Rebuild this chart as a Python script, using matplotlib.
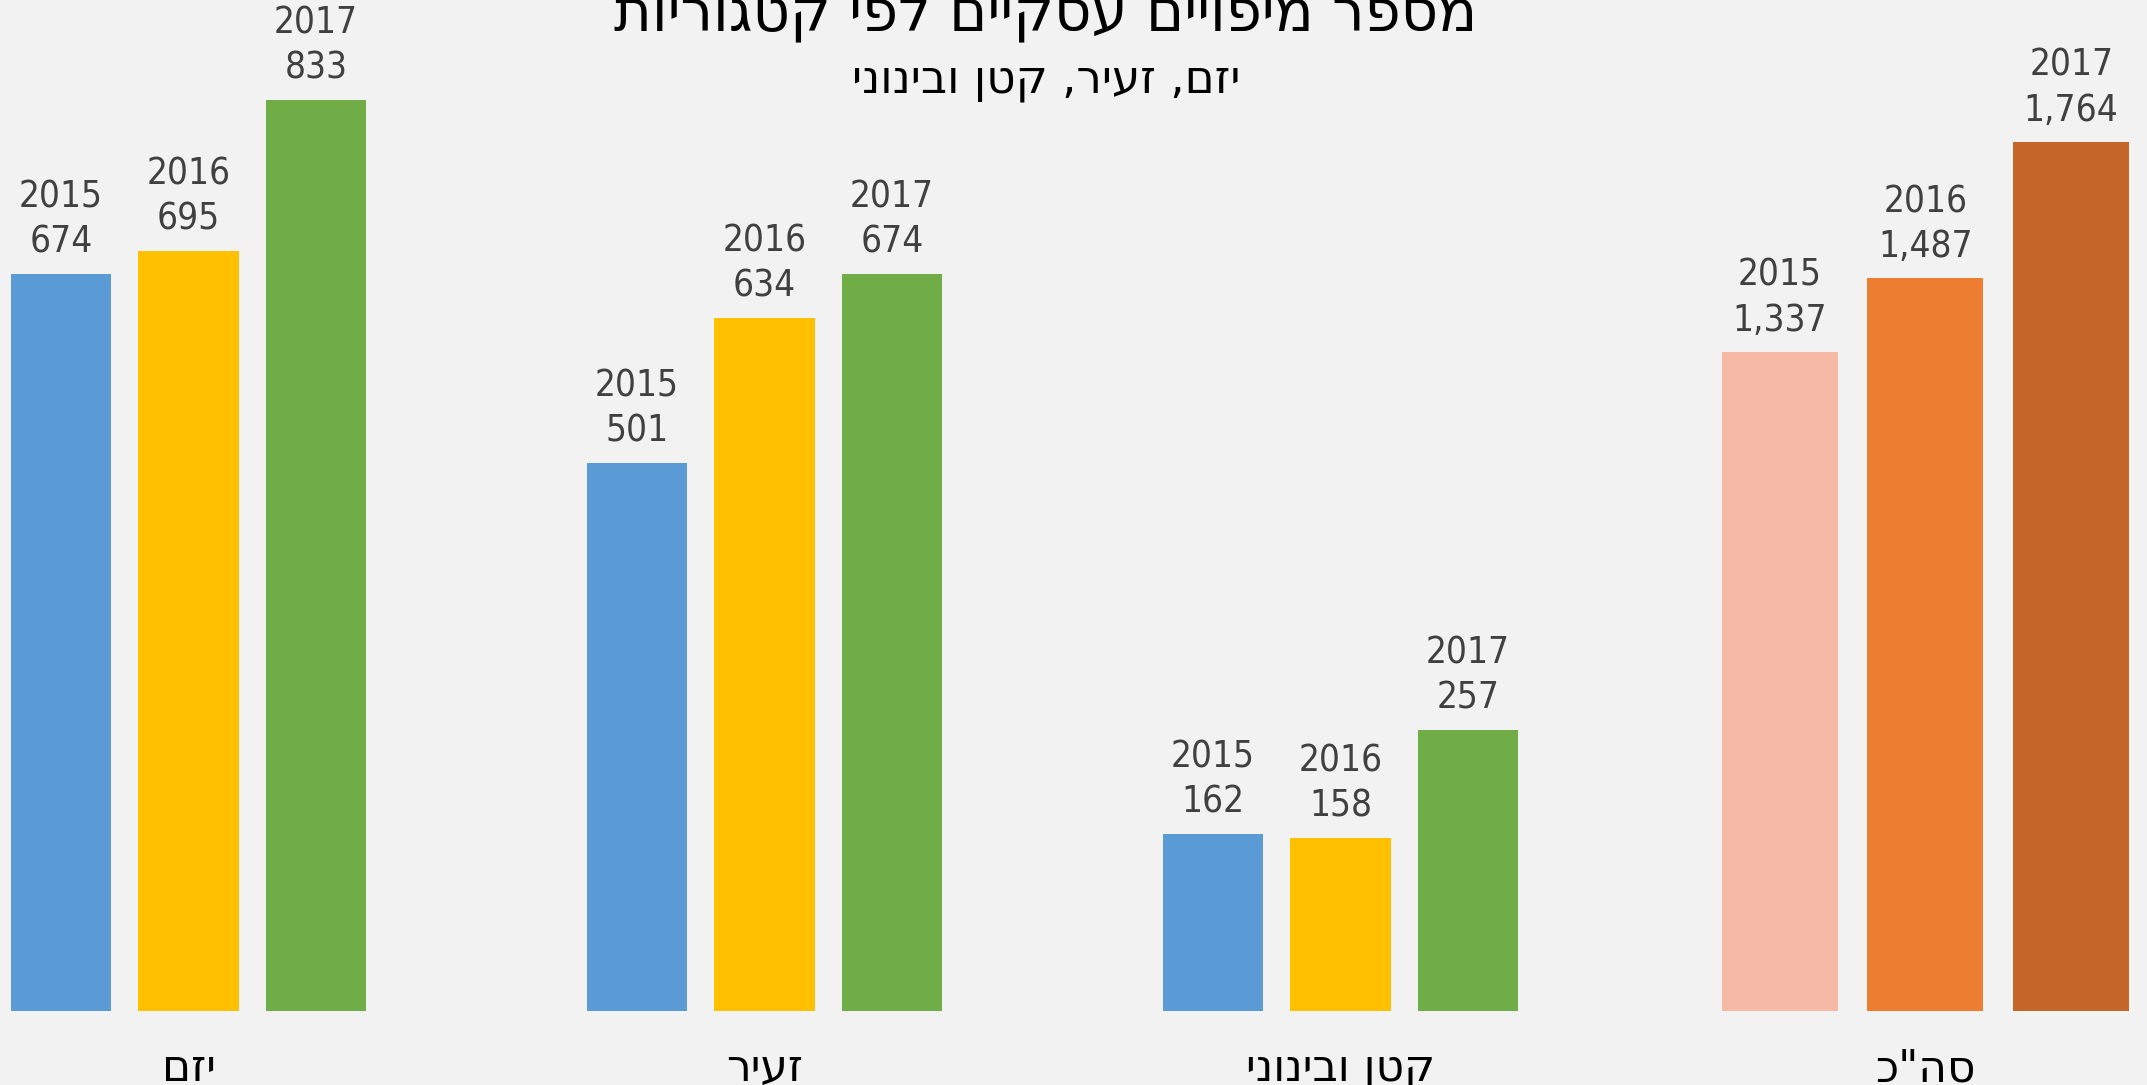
import numpy as np
import matplotlib.pyplot as plt

# נתונים
categories = ['יזם', 'זעיר', 'קטן ובינוני', 'סה"כ']
years = ['2015', '2016', '2017']
v2015 = [674, 501, 162]
v2016 = [695, 634, 158]
v2017 = [833, 674, 257]
totals = [1337, 1487, 1764]

title = 'מספר מיפויים עסקיים לפי קטגוריות'
subtitle = 'יזם, זעיר, קטן ובינוני'

colors = ['#5B9BD5', '#FFC000', '#70AD47']
total_colors = ['#F5B9A5', '#ED7D31', '#C56628']
bg = '#F2F2F2'
label_color = '#404040'


def rtl(s):
    # matplotlib has no bidi support, so Hebrew is drawn reversed
    return s[::-1]


plt.rcParams['font.family'] = ['DejaVu Sans']

fig = plt.figure(figsize=(21.47, 10.85), dpi=100, facecolor=bg)
ax = fig.add_axes([0, 0, 1, 1])
ax.set_facecolor(bg)
ax2 = ax.twinx()

lbl = dict(xytext=(0, 9.5), textcoords='offset points', ha='center', va='bottom',
           fontsize=26.5, linespacing=1.28, color=label_color, fontstretch='condensed')

x = np.arange(3)
w = 0.1745
step = 0.2215
for k, vals in enumerate([v2015, v2016, v2017]):
    bars = ax.bar(x + (k - 1) * step, vals, w, color=colors[k])
    for b, v in zip(bars, vals):
        ax.annotate(f'{years[k]}\n{v:,}', (b.get_x() + b.get_width() / 2, v), **lbl)

# סה"כ על ציר משני
x_tot = 3.0156
w2 = 0.2014
step2 = 0.253
tb = ax2.bar(x_tot + (np.arange(3) - 1) * step2, totals, w2, color=total_colors)
for k, (b, v) in enumerate(zip(tb, totals)):
    ax2.annotate(f'{years[k]}\n{v:,}', (b.get_x() + b.get_width() / 2, v), **lbl)

ax.set_xlim(-0.3273, 3.4002)
ax.set_ylim(-67.7, 924.5)
ax2.set_ylim(-150.2, 2052)

for a in (ax, ax2):
    for s in a.spines.values():
        s.set_visible(False)
    a.set_yticks([])

ax.spines['bottom'].set_position(('data', 0))
ax.set_xticks([0, 1, 2, x_tot], [rtl(c) for c in categories], fontsize=31.5)
ax.tick_params(axis='x', length=0, pad=26)

fig.text(1046 / 2147, 1 - 31 / 1085, rtl(title), ha='center', va='baseline',
         fontsize=41.5, color='black')
fig.text(1046 / 2147, 1 - 92 / 1085, rtl(subtitle), ha='center', va='baseline',
         fontsize=32.5, color='black')

fig.savefig('out.png', dpi=100, facecolor=bg)
